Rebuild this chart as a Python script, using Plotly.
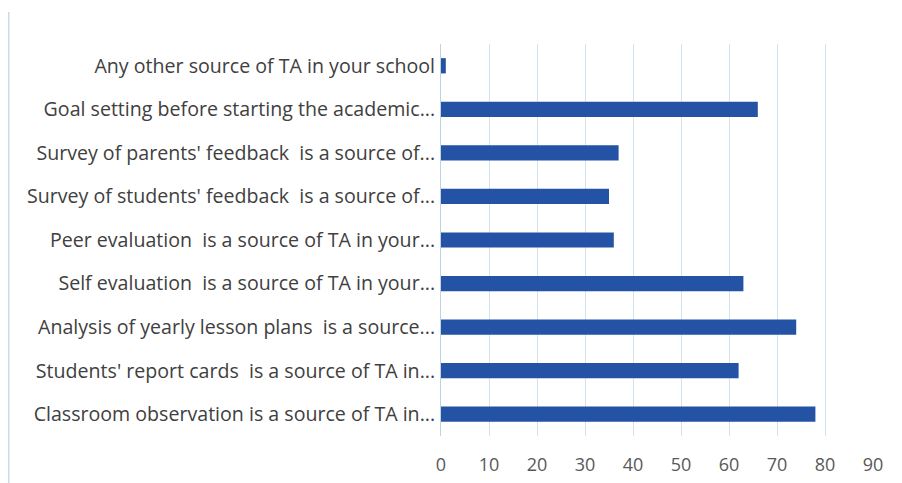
import plotly.graph_objects as go

categories = [
    "Classroom observation is a source of TA in...",
    "Students' report cards  is a source of TA in...",
    "Analysis of yearly lesson plans  is a source...",
    "Self evaluation  is a source of TA in your...",
    "Peer evaluation  is a source of TA in your...",
    "Survey of students' feedback  is a source of...",
    "Survey of parents' feedback  is a source of...",
    "Goal setting before starting the academic...",
    "Any other source of TA in your school",
]
values = [78, 62, 74, 63, 36, 35, 37, 66, 1]
x_ticks = [0, 10, 20, 30, 40, 50, 60, 70, 80, 90]

L, R, T, B = 433, 37, 36, 55
PW = 902 - L - R
PH = 483 - T - B

fig = go.Figure(go.Bar(
    y=categories, x=values, orientation="h",
    marker=dict(color="#2452A4", line=dict(width=0)),
    width=0.35,
))

fig.update_layout(
    width=902, height=483,
    margin=dict(l=L, r=R, t=T, b=B),
    paper_bgcolor="white", plot_bgcolor="white",
    showlegend=False,
    font=dict(family="Open Sans", size=14, color="#404040"),
    shapes=[dict(type="line", xref="paper", yref="paper",
                 x0=(0.5 - L) / PW, x1=(0.5 - L) / PW,
                 y0=(PH + T - 483) / PH, y1=(PH + T - 4) / PH,
                 line=dict(color="#C9DCEB", width=2))],
)
fig.update_xaxes(
    range=[0, 90], tickvals=x_ticks, showgrid=True,
    gridcolor="#D3E2EE", gridwidth=1, zeroline=False,
    tickfont=dict(size=18, color="#595959"), ticks="", showline=False,
    ticklabelstandoff=16, automargin=False,
)
fig.update_yaxes(
    showgrid=False, ticks="", ticklabelstandoff=1,
    tickfont=dict(size=19.6, color="#404040"),
    showline=True, linecolor="#BFD2E2", linewidth=1, automargin=False,
)
fig.write_html("out.html")
